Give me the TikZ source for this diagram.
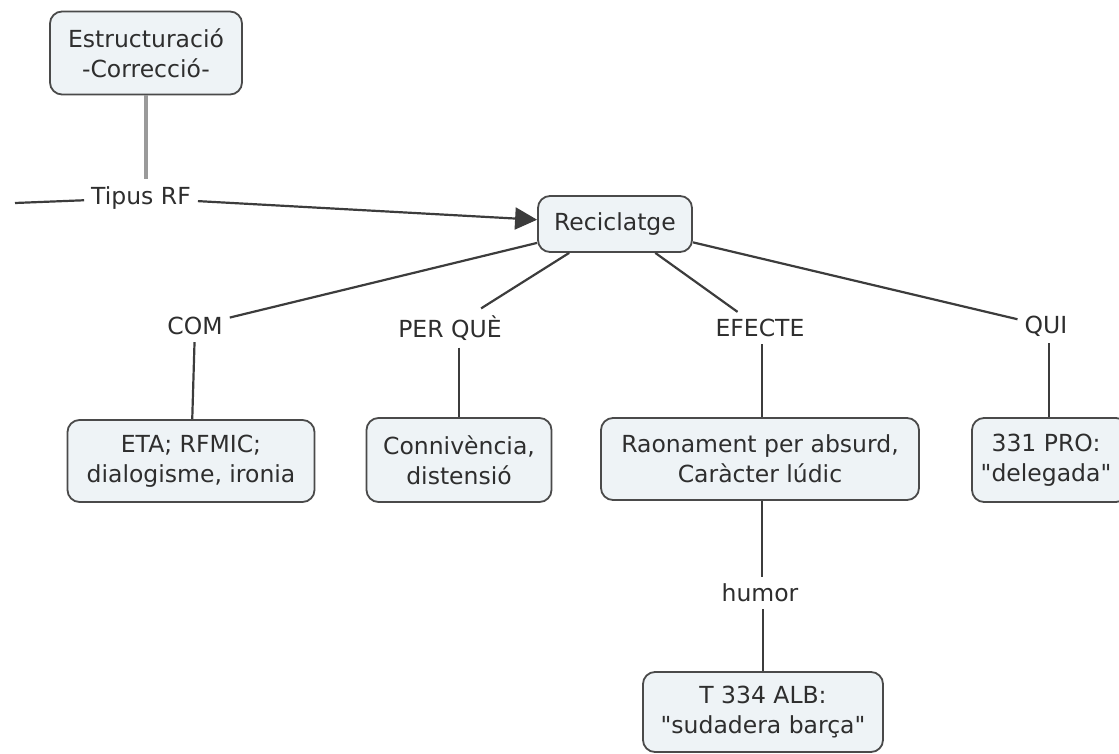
\documentclass[tikz,border=0pt]{standalone}
\usepackage{fontspec}
\setmainfont{DejaVu Sans}
\usetikzlibrary{arrows.meta}
\definecolor{boxfill}{HTML}{EEF3F6}
\definecolor{boxline}{HTML}{4A4A4A}
\definecolor{txt}{HTML}{2E2E2E}
\definecolor{link}{HTML}{3C3C3C}
\definecolor{lightlink}{HTML}{9A9A9A}
% straight double quote, taken as a glyph so the text mapping leaves it alone
\newcommand{\dq}{\XeTeXglyph\XeTeXcharglyph 34\relax}
\begin{document}
\begin{tikzpicture}[x=1pt,y=-1pt,
  concept/.style={draw=boxline, line width=1.8pt, fill=boxfill, rounded corners=12pt,
    align=center, text=txt, font=\fontsize{23.5}{30}\selectfont, inner sep=0pt},
  linkword/.style={fill=white, text=txt, font=\fontsize{23.5}{30}\selectfont, inner sep=7pt},
  conn/.style={draw=link, line width=2.2pt}]
\useasboundingbox (0,0) rectangle (1119,754);

% concepts
\node[concept, minimum width=192, minimum height=83] (est) at (146,53) {Estructuració\\-Correcció-};
\node[concept, minimum width=154, minimum height=56] (rec) at (615,224) {Reciclatge};
\node[concept, minimum width=247, minimum height=82] (eta) at (191,461) {ETA; RFMIC;\\dialogisme, ironia};
\node[concept, minimum width=185, minimum height=84] (con) at (459,460) {Connivència,\\distensió};
\node[concept, minimum width=318, minimum height=82] (rao) at (760,459) {Raonament per absurd,\\Caràcter lúdic};
\node[concept, minimum width=156, minimum height=84] (pro) at (1050,460) {\hspace*{-8pt}331 PRO:\\\hspace*{-8pt}\dq delegada\dq};
\node[concept, minimum width=240, minimum height=80] (alb) at (763,712) {T 334 ALB:\\\dq sudadera barça\dq};

% linking words
\node[linkword] (tipus) at (141,198) {Tipus RF};
\node[linkword] (com) at (195,326) {COM};
\node[linkword] (perque) at (450,328) {PER QUÈ};
\node[linkword] (efecte) at (760,328) {EFECTE};
\node[linkword] (qui) at (1046,326) {QUI};
\node[linkword] (humor) at (760,593) {humor};
\coordinate (left) at (15,203);

% connectors
\draw[draw=lightlink, line width=3.5pt] (est.south) -- (tipus.north -| est.south);
\draw[conn] (left) -- (tipus);
\draw[conn, -{Triangle[length=22pt,width=22pt]}] (tipus) -- (rec);
\draw[conn] (rec) -- (com);
\draw[conn] (rec) -- (perque);
\draw[conn] (rec) -- (efecte);
\draw[conn] (rec) -- (qui);
\draw[conn] (com) -- (eta);
\draw[conn] (perque.south -| con.north) -- (con);
\draw[conn] (efecte.south -| 762,0) -- (rao.north -| 762,0);
\draw[conn] (qui.south -| 1049,0) -- (pro.north -| 1049,0);
\draw[conn] (rao.south -| 762,0) -- (humor.north -| 762,0);
\draw[conn] (humor.south -| 763,0) -- (alb.north -| 763,0);
\end{tikzpicture}
\end{document}
